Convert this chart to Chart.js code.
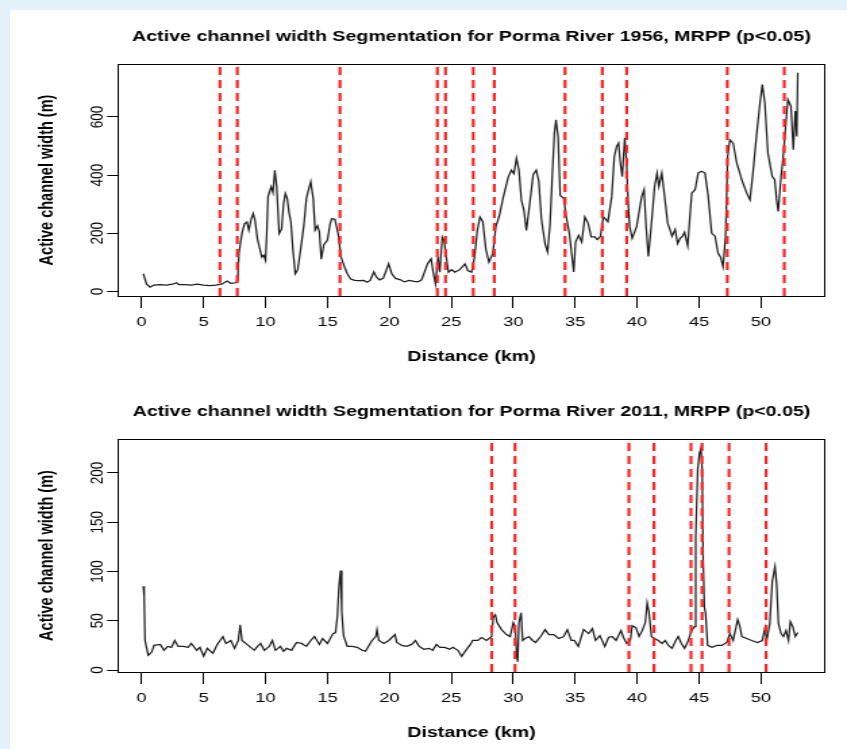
<!DOCTYPE html>
<html lang="en">
<head>
<meta charset="UTF-8">
<title>Porma River - active channel width segmentation</title>
<script src="https://cdn.jsdelivr.net/npm/chart.js"></script>
<style>
  body { margin: 0; width: 847px; height: 749px; overflow: hidden; background: #e3f1fa; }
  .panel { position: absolute; left: 10px; top: 10px; right: 0; bottom: 0; background: #fff; }
  canvas { position: absolute; left: 0; transform-origin: 0 0; transform: scaleX(1.35088); }
  #chart1956 { top: 0; }
  #chart2011 { top: 375px; }
</style>
</head>
<body>
<div class="panel"></div>
<canvas id="chart1956" width="627" height="375"></canvas>
<canvas id="chart2011" width="627" height="374"></canvas>
<script>
// distance along the river (km) and active channel width (m), 1956 survey
const km1956 = [0.13, 0.4, 0.67, 1.0, 1.5, 2.0, 2.5, 2.8, 3.0, 3.5, 4.0, 4.5, 5.0, 5.5, 6.0, 6.5, 6.9, 7.2, 7.6, 7.75,
  7.85, 8.1, 8.3, 8.5, 8.65, 8.85, 9.0, 9.15, 9.35, 9.5, 9.7, 9.85, 10.0, 10.1, 10.2, 10.45, 10.6, 10.75, 10.9, 11.1,
  11.3, 11.45, 11.6, 11.75, 11.9, 12.05, 12.2, 12.4, 12.6, 12.85, 13.1, 13.3, 13.46, 13.65, 13.85, 14.0, 14.2, 14.35, 14.5, 14.7,
  15.0, 15.2, 15.34, 15.6, 15.87, 16.0, 16.1, 16.33, 16.6, 16.87, 17.2, 17.5, 17.94, 18.2, 18.45, 18.74, 18.95, 19.2, 19.5, 19.94,
  20.2, 20.5, 20.9, 21.2, 21.6, 22.0, 22.3, 22.6, 23.08, 23.37, 23.52, 23.72, 23.92, 24.07, 24.27, 24.42, 24.62, 24.77, 25.02, 25.28,
  25.68, 26.1, 26.33, 26.63, 26.88, 27.09, 27.31, 27.54, 27.79, 28.04, 28.35, 28.6, 28.85, 29.2, 29.6, 29.85, 30.05, 30.26, 30.46, 30.66,
  30.86, 31.06, 31.36, 31.61, 31.86, 32.06, 32.27, 32.57, 32.77, 32.97, 33.17, 33.32, 33.45, 33.62, 33.79, 34.07, 34.28, 34.53, 34.88, 35.03,
  35.28, 35.53, 35.78, 36.04, 36.29, 36.59, 36.79, 37.04, 37.27, 37.64, 37.95, 38.16, 38.35, 38.5, 38.65, 38.8, 39.0, 39.15, 39.28, 39.4,
  39.6, 39.96, 40.37, 40.56, 40.71, 40.91, 41.16, 41.41, 41.61, 41.76, 41.99, 42.22, 42.47, 42.67, 42.82, 43.07, 43.27, 43.47, 43.67, 43.83,
  44.08, 44.41, 44.68, 44.93, 45.18, 45.48, 45.74, 46.02, 46.29, 46.54, 46.74, 46.94, 47.14, 47.31, 47.49, 47.75, 48.05, 48.45, 48.85, 49.11,
  49.35, 49.66, 49.92, 50.11, 50.31, 50.56, 50.71, 50.91, 51.11, 51.26, 51.39, 51.62, 51.77, 51.97, 52.17, 52.42, 52.61, 52.77, 52.89, 52.97];
const width1956 = [61, 25, 15, 22, 24, 22, 25, 30, 24, 24, 22, 25, 22, 20, 22, 26, 36, 28, 30, 40,
  131, 200, 233, 239, 211, 250, 268, 245, 180, 153, 118, 125, 107, 200, 325, 360, 340, 417, 360, 199,
  215, 300, 337, 320, 270, 238, 150, 61, 75, 149, 230, 320, 348, 377, 320, 211, 226, 205, 111, 160,
  177, 230, 250, 248, 197, 150, 118, 90, 61, 43, 38, 37, 38, 32, 38, 67, 50, 40, 45, 95,
  60, 45, 40, 33, 38, 35, 33, 40, 95, 112, 70, 26, 118, 66, 187, 175, 110, 66, 75, 66,
  75, 95, 72, 66, 120, 207, 256, 240, 145, 101, 131, 225, 256, 325, 394, 417, 405, 458, 417, 313,
  280, 210, 313, 402, 417, 380, 250, 164, 136, 230, 417, 544, 590, 530, 330, 320, 256, 200, 67, 170,
  193, 170, 256, 235, 188, 188, 178, 190, 257, 240, 326, 464, 499, 510, 441, 395, 528, 441, 303, 223,
  183, 223, 326, 350, 234, 120, 235, 361, 407, 361, 407, 326, 234, 210, 190, 213, 165, 183, 190, 204,
  157, 338, 350, 407, 413, 407, 327, 200, 190, 131, 118, 85, 190, 464, 521, 510, 441, 384, 338, 315,
  407, 545, 648, 711, 648, 476, 441, 395, 384, 315, 275, 395, 453, 556, 660, 636, 487, 620, 533, 752];
const breaks1956 = [6.32, 7.72, 16.01, 23.87, 24.53, 26.77, 28.47, 34.18, 37.19, 39.16, 47.28, 51.88];

// 2011 survey
const km2011 = [0.13, 0.2, 0.27, 0.53, 0.8, 1.0, 1.5, 1.8, 2.1, 2.4, 2.67, 2.95, 3.35, 3.75, 4.0, 4.45, 4.7, 5.0, 5.3, 5.75,
  6.1, 6.56, 6.8, 7.2, 7.5, 7.8, 7.95, 8.1, 8.4, 8.7, 9.1, 9.35, 9.6, 9.9, 10.3, 10.55, 10.8, 11.2, 11.45, 11.7,
  12.1, 12.5, 12.9, 13.3, 13.65, 13.95, 14.35, 14.6, 15.0, 15.45, 15.65, 15.8, 15.93, 16.06, 16.15, 16.3, 16.6, 17.0, 17.4, 17.8,
  18.07, 18.3, 18.6, 18.9, 19.0, 19.15, 19.55, 19.95, 20.45, 20.6, 21.0, 21.4, 21.8, 22.1, 22.4, 22.8, 23.2, 23.5, 23.8, 24.07,
  24.47, 24.87, 25.13, 25.53, 25.83, 26.23, 26.48, 26.73, 27.14, 27.44, 27.84, 28.25, 28.39, 28.55, 28.7, 29.05, 29.45, 29.75, 30.0, 30.16,
  30.28, 30.36, 30.46, 30.63, 30.76, 30.96, 31.26, 31.56, 31.81, 32.21, 32.57, 32.87, 33.27, 33.67, 34.07, 34.37, 34.68, 34.93, 35.25, 35.68,
  36.09, 36.39, 36.64, 36.99, 37.39, 37.69, 37.99, 38.3, 38.7, 38.9, 39.15, 39.45, 39.6, 39.9, 40.16, 40.41, 40.66, 40.81, 40.96, 41.16,
  41.41, 41.71, 42.02, 42.27, 42.52, 42.82, 43.12, 43.32, 43.57, 43.83, 44.13, 44.39, 44.63, 44.73, 44.89, 45.03, 45.15, 45.25, 45.33, 45.43,
  45.53, 45.69, 46.04, 46.44, 46.84, 47.24, 47.49, 47.75, 48.12, 48.3, 48.45, 48.85, 49.25, 49.71, 50.11, 50.32, 50.46, 50.71, 50.91, 51.13,
  51.26, 51.41, 51.62, 51.82, 52.02, 52.22, 52.37, 52.57, 52.77, 52.97];
const width2011 = [85, 75, 30, 15, 18, 25, 26, 20, 24, 23, 30, 24, 24, 23, 27, 20, 23, 14, 22, 17,
  26, 34, 27, 30, 22, 30, 46, 30, 27, 24, 20, 24, 27, 20, 24, 30, 20, 24, 19, 22,
  20, 28, 27, 24, 30, 34, 26, 32, 27, 37, 38, 54, 85, 101, 60, 35, 24, 24, 23, 20,
  19, 24, 30, 34, 41, 30, 27, 30, 36, 28, 25, 24, 26, 30, 24, 21, 22, 20, 26, 23,
  23, 21, 23, 20, 14, 21, 25, 30, 30, 33, 30, 34, 54, 56, 48, 41, 36, 34, 48, 44,
  14, 8.5, 48, 58, 30, 32, 34, 30, 28, 34, 41, 36, 36, 32, 34, 41, 30, 30, 24, 41,
  37, 42, 30, 35, 24, 33, 34, 30, 40, 33, 27, 30, 45, 43, 34, 40, 48, 68, 58, 34,
  32, 30, 27, 30, 25, 22, 30, 34, 27, 22, 30, 40, 44, 135, 203, 220, 225, 203, 113, 64,
  57, 25, 23, 25, 25, 28, 37, 30, 51, 44, 34, 32, 30, 28, 30, 43, 30, 47, 90, 105,
  88, 47, 37, 34, 40, 30, 49, 44, 34, 38];
const breaks2011 = [28.26, 30.14, 39.34, 41.36, 44.35, 45.24, 47.42, 50.41];

const xTicks = [0, 5, 10, 15, 20, 25, 30, 35, 40, 45, 50];
const yTicks1956 = [0, 200, 400, 600];
const yTicks2011 = [0, 50, 100, 150, 200];

// the original figure is stretched sideways; the canvases are drawn narrow and scaled by 847/627
const sx = 847 / 627;
const fontFamily = "'Liberation Sans', Arial, sans-serif";
const plotLeft = 118 / sx;
const plotRight = 825 / sx;

function drawPanel(id, km, widths, breaks, yTicks, yMin, yMax, titleText, plotTop, plotBottom, xTitlePad) {
  const canvas = document.getElementById(id);
  const h = canvas.height;
  const line = {
    data: km.map((k, i) => ({ x: k, y: widths[i] })),
    borderColor: '#1e1e1e',
    borderWidth: 1.25,
    pointRadius: 0,
    tension: 0,
    order: 1
  };
  const cuts = breaks.map(b => ({
    data: [{ x: b, y: yMin }, { x: b, y: yMax }],
    borderColor: '#ff2424',
    borderWidth: 2.2,
    borderDash: [8, 5],
    pointRadius: 0,
    order: 0
  }));
  const bold = { family: fontFamily, size: 14.5, weight: 'bold', lineHeight: 1.2 };
  const tickFont = { family: fontFamily, size: 13.5 };

  new Chart(canvas, {
    type: 'line',
    data: { datasets: [line, ...cuts] },
    options: {
      responsive: false,
      animation: false,
      layout: { padding: 0 },
      plugins: { legend: { display: false }, tooltip: { enabled: false } },
      scales: {
        x: {
          type: 'linear', position: 'bottom', min: -1.91, max: 55.17,
          afterBuildTicks: s => { s.ticks = xTicks.map(v => ({ value: v })); },
          afterFit: s => { s.height = h - plotBottom; },
          grid: { drawOnChartArea: false, tickLength: 12, tickColor: '#000', tickWidth: 1 },
          border: { color: '#000', width: 1 },
          ticks: { color: '#000', font: tickFont, padding: 6, maxRotation: 0, autoSkip: false },
          title: { display: true, text: 'Distance (km)', color: '#000', font: bold, padding: { top: 0, bottom: xTitlePad } }
        },
        xTop: {
          type: 'linear', position: 'top', min: -1.91, max: 55.17,
          afterFit: s => { s.height = plotTop; },
          grid: { display: false },
          border: { display: true, color: '#000', width: 1 },
          ticks: { display: false },
          title: { display: true, text: titleText, color: '#000', font: bold, padding: { top: 28.3, bottom: 0 } }
        },
        y: {
          type: 'linear', position: 'left', min: yMin, max: yMax,
          afterBuildTicks: s => { s.ticks = yTicks.map(v => ({ value: v })); },
          afterFit: s => { s.width = plotLeft; },
          grid: { drawOnChartArea: false, tickLength: 8, tickColor: '#000', tickWidth: 1 },
          border: { color: '#000', width: 1 },
          ticks: { color: '#000', font: tickFont, padding: -4, minRotation: 90, maxRotation: 90, crossAlign: 'center' },
          title: { display: true, text: 'Active channel width (m)', color: '#000', font: bold, padding: { top: 26.1, bottom: 0 } }
        },
        yRight: {
          type: 'linear', position: 'right', min: yMin, max: yMax,
          afterFit: s => { s.width = 627 - plotRight; },
          grid: { display: false },
          border: { display: true, color: '#000', width: 1 },
          ticks: { display: false }
        }
      }
    }
  });
}

drawPanel('chart1956', km1956, width1956, breaks1956, yTicks1956, -15.5, 782,
  'Active channel width Segmentation for Porma River 1956, MRPP (p<0.05)', 64, 296, 9.3);
drawPanel('chart2011', km2011, width2011, breaks2011, yTicks2011, -2, 234.5,
  'Active channel width Segmentation for Porma River 2011, MRPP (p<0.05)', 64, 297, 7.3);
</script>
</body>
</html>
